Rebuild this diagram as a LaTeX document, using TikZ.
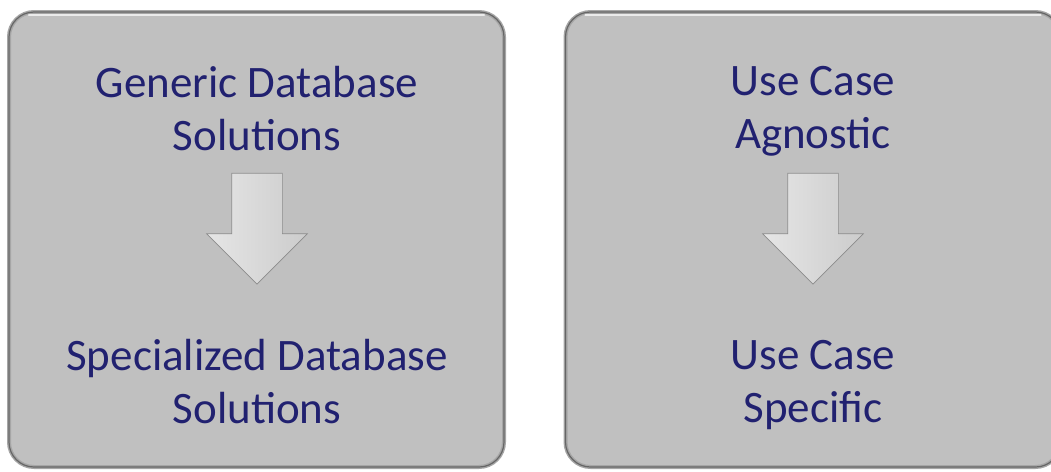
\documentclass[tikz,border=0pt]{standalone}
\usepackage{fontspec}
\setmainfont{Carlito}
\usepackage{xcolor}
\usepackage{tikz}
\usetikzlibrary{positioning,shapes.arrows}

\definecolor{panelgray}{RGB}{192,192,192}
\definecolor{textnavy}{RGB}{33,33,112}

\begin{document}
\begin{tikzpicture}[
  x=1pt, y=-1pt,
  panel/.style={fill=panelgray, draw=black!35, line width=4pt, rounded corners=25pt, minimum width=495pt, minimum height=455pt, inner sep=0pt, postaction={draw=black!60, line width=1.2pt}},
  paneltext/.style={align=center, text=textnavy, font=\fontsize{45}{53}\selectfont},
  downarrow/.style={single arrow, shape border rotate=270, minimum height=111pt, single arrow head extend=25pt, single arrow tip angle=90, inner sep=25pt, draw=black!45, line width=0.7pt, left color=white!90!black, middle color=white, right color=white!80!black},
  highlight/.style={draw=white!92!black, line width=2.5pt, line cap=round}
]
  \useasboundingbox (0,0) rectangle (1051,471);
  \clip (0,0) rectangle (1051,471);

  % left panel
  \node[panel] (leftpanel) at (256.5,239.5) {};
  \draw[highlight] ([xshift=22pt,yshift=-5pt]leftpanel.north west) -- ([xshift=-22pt,yshift=-5pt]leftpanel.north east);
  \node[paneltext, anchor=base] (generic) at (257,150) {Generic Database\\Solutions};
  \node[downarrow] (arrowL) at (257,216) {};
  \node[paneltext, anchor=base] (special) at (257,423) {Specialized Database\\Solutions};

  % right panel
  \node[panel] (rightpanel) at (813,239.5) {};
  \draw[highlight] ([xshift=22pt,yshift=-5pt]rightpanel.north west) -- ([xshift=-22pt,yshift=-5pt]rightpanel.north east);
  \node[paneltext, anchor=base] (agnostic) at (813,148) {Use Case\\Agnostic};
  \node[downarrow] (arrowR) at (813,216) {};
  \node[paneltext, anchor=base] (specific) at (813,422) {Use Case\\Specific};
\end{tikzpicture}
\end{document}
